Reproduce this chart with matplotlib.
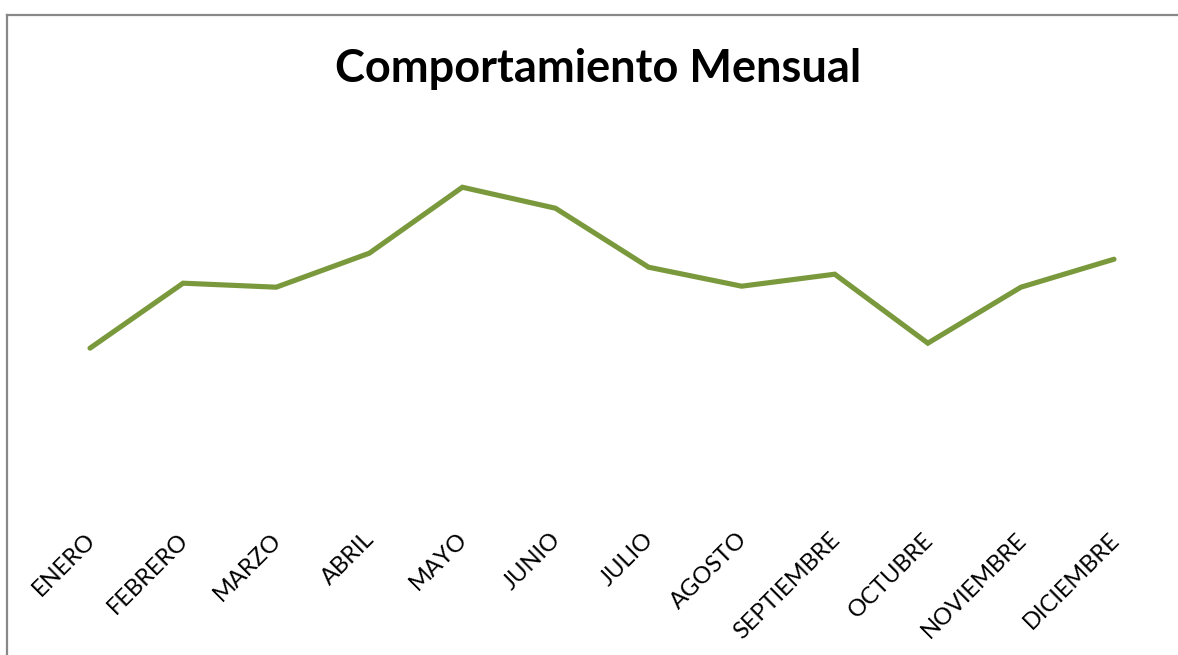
import matplotlib.pyplot as plt
import matplotlib.transforms as mtransforms
from matplotlib.lines import Line2D

months = ["ENERO", "FEBRERO", "MARZO", "ABRIL", "MAYO", "JUNIO", "JULIO",
          "AGOSTO", "SEPTIEMBRE", "OCTUBRE", "NOVIEMBRE", "DICIEMBRE"]
# values (no visible value axis, arbitrary units)
values = [172, 237, 233, 267, 333, 312, 253, 234, 246, 177, 233, 261]

plt.rcParams["font.family"] = ["Lato", "DejaVu Sans"]

fig = plt.figure(figsize=(11.78, 6.55), dpi=100)
ax = fig.add_axes([0.0369, 0.206, 0.9483, 0.618])

x = list(range(len(months)))
ax.plot(x, values, color="#7A993C", linewidth=3.7, solid_capstyle="round",
        solid_joinstyle="miter")

ax.set_xlim(-0.5, len(months) - 0.5)
ax.set_ylim(0, 405)
ax.set_yticks([])
ax.set_xticks(x)
ax.set_xticklabels(months, rotation=45, ha="right", va="top",
                   rotation_mode="anchor", fontsize=17)
ax.tick_params(axis="x", length=0, pad=7)
# nudge the labels a little to the left, as in the original
shift = mtransforms.ScaledTranslation(-0.055, 0.01, fig.dpi_scale_trans)
for lbl in ax.get_xticklabels():
    lbl.set_transform(lbl.get_transform() + shift)
for s in ax.spines.values():
    s.set_visible(False)

fig.text(0.508, 0.895, "Comportamiento Mensual", ha="center", va="center",
         fontsize=32.5, fontweight="bold")

# chart area frame, cut off at right and bottom
fig.add_artist(Line2D([0.006, 1.0], [0.977, 0.977], transform=fig.transFigure,
                      color="#888888", linewidth=1.6))
fig.add_artist(Line2D([0.006, 0.006], [0.0, 0.977], transform=fig.transFigure,
                      color="#888888", linewidth=1.6))

fig.savefig("out.png", dpi=100)
